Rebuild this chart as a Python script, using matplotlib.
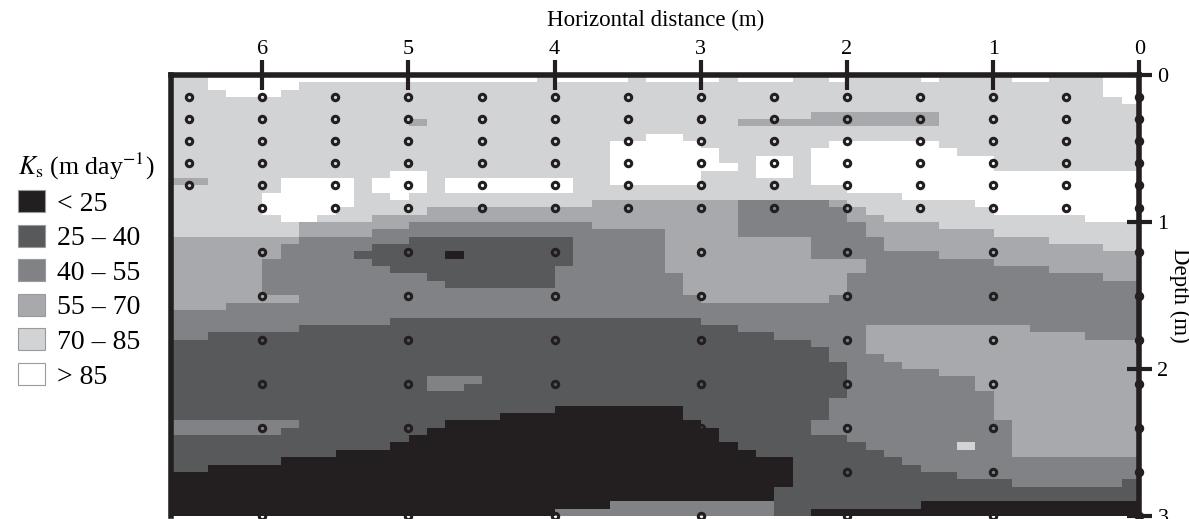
import numpy as np
import matplotlib.pyplot as plt
from matplotlib.colors import ListedColormap, BoundaryNorm
from matplotlib.patches import Patch

plt.rcParams['font.family'] = ['Liberation Serif', 'DejaVu Serif']
plt.rcParams['mathtext.fontset'] = 'stix'

# Ks class (0: <25 ... 5: >85)
# one row per 0.05 m of depth, run-length coded as (class, number of 0.125 m cells),
# going from 6.625 m (left) to 0 m (right)
ks_rows = [
    [(4,2),(5,18),(4,1),(5,4),(4,1),(5,4),(4,1),(5,3),(4,2),(5,1),(4,4),(5,1),(4,4),(5,2),(4,3),(5,2)],
    [(4,2),(5,5),(4,44),(5,2)],
    [(4,3),(5,3),(4,45),(5,2)],
    [(4,52),(5,1)],
    [(4,53)],
    [(4,35),(3,7),(4,11)],
    [(4,13),(3,1),(4,17),(3,11),(4,11)],
    [(4,53)],
    [(4,26),(5,2),(4,25)],
    [(4,24),(5,5),(4,7),(5,6),(4,11)],
    [(4,24),(5,6),(4,5),(5,8),(4,10)],
    [(4,24),(5,6),(4,2),(5,2),(4,1),(5,10),(4,8)],
    [(4,24),(5,7),(4,1),(5,2),(4,1),(5,10),(4,8)],
    [(4,12),(5,2),(4,10),(5,5),(4,3),(5,2),(4,1),(5,18)],
    [(3,2),(4,4),(5,4),(4,1),(5,3),(4,1),(5,7),(4,2),(5,5),(4,6),(5,18)],
    [(4,6),(5,4),(4,1),(5,3),(4,1),(5,7),(4,15),(5,16)],
    [(4,5),(5,5),(4,2),(5,1),(4,27),(5,13)],
    [(4,5),(5,5),(4,13),(3,8),(2,5),(3,1),(4,7),(5,9)],
    [(4,5),(5,4),(4,5),(3,17),(2,6),(3,1),(4,7),(5,8)],
    [(4,6),(5,2),(4,3),(3,20),(2,6),(3,2),(4,11),(5,3)],
    [(4,7),(3,6),(2,10),(3,8),(2,7),(3,4),(4,11)],
    [(4,7),(3,4),(2,16),(3,4),(2,7),(3,7),(4,8)],
    [(3,7),(2,6),(1,9),(2,5),(3,8),(2,4),(3,9),(4,5)],
    [(3,6),(2,5),(1,11),(2,5),(3,8),(2,4),(3,12),(4,2)],
    [(3,6),(2,4),(1,5),(0,1),(1,6),(2,5),(3,8),(2,7),(3,11)],
    [(3,5),(2,6),(1,11),(2,5),(3,11),(2,7),(3,8)],
    [(3,5),(2,7),(1,9),(2,6),(3,11),(2,10),(3,5)],
    [(3,5),(2,9),(1,7),(2,7),(3,9),(2,14),(3,2)],
    [(3,5),(2,10),(1,6),(2,7),(3,9),(2,16)],
    [(3,5),(2,23),(3,9),(2,16)],
    [(3,7),(2,22),(3,7),(2,17)],
    [(3,3),(2,50)],
    [(2,53)],
    [(2,12),(1,17),(2,24)],
    [(2,7),(1,24),(2,7),(3,9),(2,6)],
    [(2,2),(1,31),(2,5),(3,12),(2,3)],
    [(1,35),(2,3),(3,15)],
    [(1,36),(2,2),(3,15)],
    [(1,36),(2,3),(3,14)],
    [(1,37),(2,3),(3,13)],
    [(1,37),(2,5),(3,11)],
    [(1,14),(2,3),(1,20),(2,7),(3,9)],
    [(1,14),(2,2),(1,21),(2,7),(3,9)],
    [(1,37),(2,8),(3,8)],
    [(1,36),(2,9),(3,8)],
    [(1,21),(0,7),(1,8),(2,9),(3,8)],
    [(1,18),(0,10),(1,8),(2,9),(3,8)],
    [(2,7),(1,8),(0,14),(1,6),(2,11),(3,7)],
    [(2,6),(1,8),(0,16),(1,5),(2,11),(3,7)],
    [(1,13),(0,17),(1,7),(2,9),(3,7)],
    [(1,12),(0,19),(1,7),(2,5),(4,1),(2,2),(3,7)],
    [(1,9),(0,23),(1,7),(2,7),(3,7)],
    [(1,6),(0,28),(1,6),(2,13)],
    [(1,2),(0,32),(1,7),(2,12)],
    [(0,34),(1,9),(2,10)],
    [(0,34),(1,12),(2,6),(1,1)],
    [(0,33),(1,20)],
    [(0,33),(1,20)],
    [(0,24),(2,9),(1,8),(0,12)],
    [(0,21),(2,12),(1,2),(0,18)],
]

class_labels = ['< 25', '25 – 40', '40 – 55', '55 – 70', '70 – 85', '> 85']
class_colors = ['#231f20', '#58595b', '#808285', '#a7a9ac', '#d1d3d4', '#ffffff']

# sampling points
shallow_x = [6.0, 5.5, 5.0, 4.5, 4.0, 3.5, 3.0, 2.5, 2.0, 1.5, 1.0, 0.5, 0.0]
shallow_z = [0.15, 0.30, 0.45, 0.60, 0.75, 0.90]
edge_x = [6.5]
edge_z = [0.15, 0.30, 0.45, 0.60, 0.75]
deep_x = [6, 5, 4, 3, 2, 1, 0]
deep_z = [1.2, 1.5, 1.8, 2.1, 2.4, 2.7, 3.0]

map_width = 6.625
map_depth = 3.0

grid = np.array([np.repeat([c for c, n in row], [n for c, n in row]) for row in ks_rows])
assert grid.shape == (60, 53), grid.shape

fig = plt.figure(figsize=(11.89, 5.19), dpi=100)
ax = fig.add_axes([0.1437, 0.0058, 0.8146, 0.8491])

cmap = ListedColormap(class_colors)
norm = BoundaryNorm(np.arange(-0.5, 6), cmap.N)
ax.imshow(grid, cmap=cmap, norm=norm, extent=(map_width, 0, map_depth, 0),
          aspect='auto', interpolation='nearest')

pts = [(x, z) for x in shallow_x for z in shallow_z]
pts += [(x, z) for x in edge_x for z in edge_z]
pts += [(x, z) for x in deep_x for z in deep_z]
px, pz = zip(*pts)
ax.plot(px, pz, ls='none', marker='o', ms=4.6, mew=2.2, mec='#231f20',
        mfc='none', clip_on=False, zorder=2)

ax.set_xlim(map_width, 0)
ax.set_ylim(map_depth, 0)

ax.set_xticks(range(7))
ax.set_yticks(range(4))
ax.xaxis.tick_top()
ax.yaxis.tick_right()
ax.tick_params(axis='x', direction='inout', length=21, width=3, pad=1,
               labelsize=16, color='#231f20')
ax.tick_params(axis='y', direction='inout', length=18, width=3, pad=4,
               labelsize=16, color='#231f20')
for side in ['top', 'left', 'right']:
    ax.spines[side].set_linewidth(4)
    ax.spines[side].set_color('#231f20')
ax.spines['bottom'].set_visible(False)

ax.xaxis.set_label_position('top')
ax.set_xlabel('Horizontal distance (m)', fontsize=16.5, labelpad=10)
ax.yaxis.set_label_position('right')
ax.set_ylabel('Depth (m)', fontsize=16.5, rotation=270, va='center', ha='center')
ax.yaxis.set_label_coords(1.0415, 0.5)

handles = [Patch(facecolor=c, edgecolor='#9a9a9a', linewidth=0.8) for c in class_colors]
fig.legend(handles, class_labels, loc='upper left', bbox_to_anchor=(0.0152, 0.709),
           frameon=False, title=r'$K_{\rm s}$ (m day$^{-1}$)', title_fontsize=18.5,
           fontsize=20, handlelength=0.97, handleheight=0.83, handletextpad=0.43,
           labelspacing=0.29, borderpad=0, borderaxespad=0, alignment='left')

fig.savefig('out.png', dpi=100)
